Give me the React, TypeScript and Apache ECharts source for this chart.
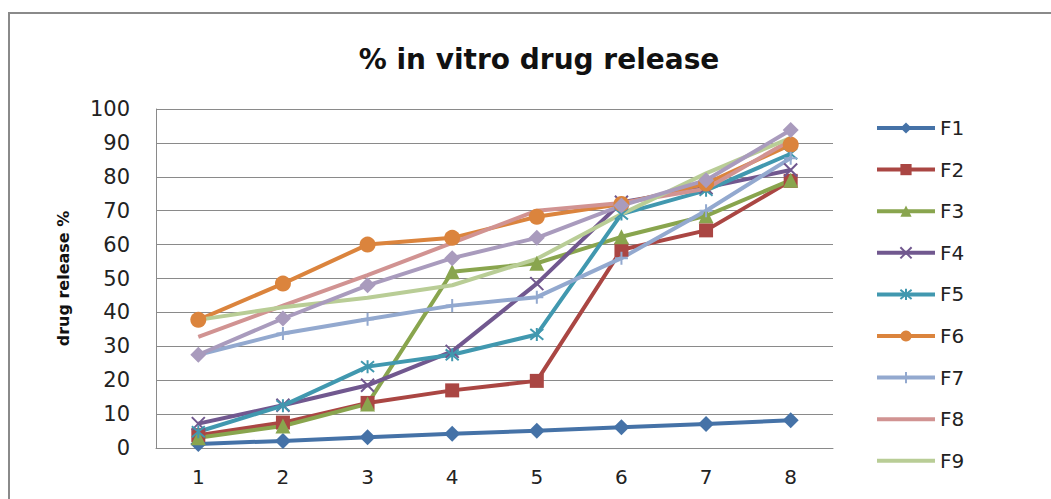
import React, { useEffect, useRef } from "react";
import * as echarts from "echarts";

// Sampling points (time intervals)
const categories = ["1", "2", "3", "4", "5", "6", "7", "8"];

// Cumulative % drug release for each formulation
const F1 = [1.2, 2.1, 3.2, 4.2, 5.1, 6.1, 7.1, 8.2];
const F2 = [3.8, 7.5, 13.3, 17, 19.8, 58.5, 64.2, 78.8];
const F3 = [3, 6.5, 13, 52, 54.5, 62.3, 68.5, 79];
const F4 = [7.2, 12.6, 18.5, 28.5, 48.5, 72.5, 76.8, 82];
const F5 = [4.8, 12.5, 24, 27.5, 33.5, 69, 76, 86.8];
const F6 = [37.8, 48.5, 60, 62, 68.2, 72, 78, 89.5];
const F7 = [27.5, 33.8, 38, 42, 44.5, 56, 70, 85.5];
const F8 = [32.8, 42, 51, 60.5, 70, 72.3, 76.5, 90.8];
const F9 = [37.8, 41.5, 44.3, 48, 55.8, 69, 81, 91.5];
const F10 = [27.5, 38.2, 48, 56, 62, 71.5, 79, 93.8];

const yTicks = { min: 0, max: 100, interval: 10 };

const FONT = "'DejaVu Sans', Verdana, sans-serif";

const xMark = "path://M0,0 L10,10 M10,0 L0,10";
const starMark = "path://M0,0 L10,10 M10,0 L0,10 M5,-1 L5,11";
const plusMark = "path://M5,0 L5,10 M0,5 L10,5";
const barIcon = "path://M0,0 L58,0 L58,4 L0,4 Z";

type Def = {
  name: string;
  data: number[];
  color: string;
  symbol: string;
  size: number;
  stroked?: boolean;
};

const defs: Def[] = [
  { name: "F1", data: F1, color: "#4572A7", symbol: "diamond", size: 16 },
  { name: "F2", data: F2, color: "#AA4643", symbol: "rect", size: 14 },
  { name: "F3", data: F3, color: "#89A54E", symbol: "triangle", size: 15 },
  { name: "F4", data: F4, color: "#71588F", symbol: xMark, size: 13, stroked: true },
  { name: "F5", data: F5, color: "#4198AF", symbol: starMark, size: 13, stroked: true },
  { name: "F6", data: F6, color: "#DB843D", symbol: "circle", size: 16 },
  { name: "F7", data: F7, color: "#93A9CF", symbol: plusMark, size: 13, stroked: true },
  { name: "F8", data: F8, color: "#D19392", symbol: "none", size: 0 },
  { name: "F9", data: F9, color: "#B9CD96", symbol: "none", size: 0 },
  { name: "F10", data: F10, color: "#A99BBD", symbol: "diamond", size: 16 },
];

export default function App() {
  const ref = useRef<HTMLDivElement>(null);

  useEffect(() => {
    if (!ref.current) return;
    const chart = echarts.init(ref.current, undefined, { renderer: "svg" });

    const series = defs.map((d) => ({
      name: d.name,
      type: "line",
      data: d.data,
      symbol: d.symbol,
      symbolSize: d.size,
      showSymbol: d.symbol !== "none",
      lineStyle: { color: d.color, width: 4 },
      itemStyle: d.stroked
        ? { color: d.color, borderColor: d.color, borderWidth: 2 }
        : { color: d.color, borderWidth: 0 },
      emphasis: { disabled: true },
    }));

    // Legend shows the first nine formulations; plain lines get a bar icon
    const legendData = defs.slice(0, 9).map((d) =>
      d.symbol === "none"
        ? { name: d.name, icon: barIcon, itemStyle: { color: d.color } }
        : { name: d.name }
    );

    chart.setOption({
      animation: false,
      backgroundColor: "#ffffff",
      graphic: [
        {
          type: "rect",
          shape: { x: 9, y: 13, width: 1200, height: 700 },
          style: { fill: "none", stroke: "#8a8a8a", lineWidth: 2 },
          silent: true,
        },
        {
          type: "text",
          x: 539,
          y: 59,
          style: {
            text: "% in vitro drug release",
            font: `bold 28px ${FONT}`,
            fill: "#111",
            textAlign: "center",
            textVerticalAlign: "middle",
          },
        },
      ],
      legend: {
        data: legendData,
        orient: "vertical",
        left: 875,
        top: 118,
        padding: 0,
        itemWidth: 58,
        itemHeight: 14,
        itemGap: 21.6,
        lineStyle: { width: 4 },
        textStyle: { fontFamily: FONT, fontSize: 20, color: "#222", lineHeight: 20 },
        selectedMode: false,
      },
      grid: { left: 156, right: 218, top: 109, bottom: 51, containLabel: false },
      xAxis: {
        type: "category",
        data: categories,
        boundaryGap: true,
        axisLine: { lineStyle: { color: "#8a8a8a", width: 1 } },
        axisTick: { show: false },
        axisLabel: { fontFamily: FONT, fontSize: 20, color: "#222", margin: 19 },
      },
      yAxis: {
        type: "value",
        min: yTicks.min,
        max: yTicks.max,
        interval: yTicks.interval,
        name: "drug release %",
        nameLocation: "middle",
        nameGap: 85,
        nameTextStyle: { fontFamily: FONT, fontSize: 16, fontWeight: "bold", color: "#111" },
        axisLine: { show: true, lineStyle: { color: "#8a8a8a", width: 1 } },
        axisTick: { show: false },
        splitLine: { lineStyle: { color: "#8a8a8a", width: 1 } },
        axisLabel: { fontFamily: FONT, fontSize: 21, color: "#222", margin: 26 },
      },
      series,
    });

    return () => chart.dispose();
  }, []);

  return (
    <div
      ref={ref}
      style={{ position: "absolute", left: 0, top: 0, width: 1051, height: 499 }}
    />
  );
}
